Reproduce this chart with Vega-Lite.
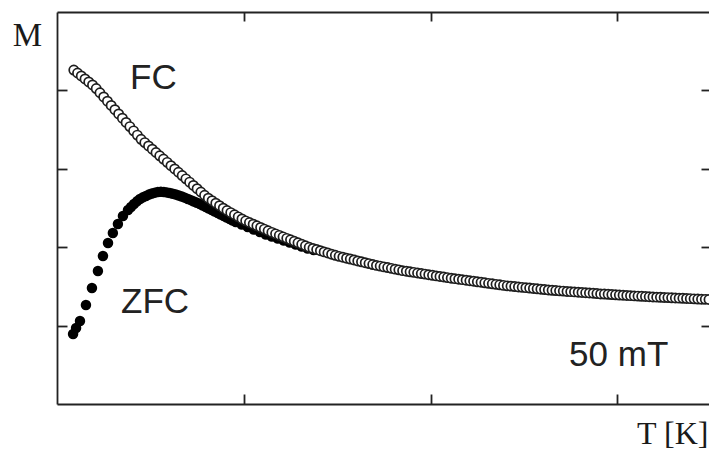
{
  "$schema": "https://vega.github.io/schema/vega-lite/v6.json",
  "width": 652,
  "height": 392,
  "autosize": "none",
  "padding": {"left": 57, "top": 12, "right": 0, "bottom": 47},
  "background": "white",
  "config": {"view": {"stroke": null}},
  "datasets": {
    "zfc": [
      {"T": 8.6, "M": 0.893}, {"T": 10.2, "M": 0.969}, {"T": 12.3, "M": 1.059}, {"T": 15.5, "M": 1.263},
      {"T": 18.7, "M": 1.48}, {"T": 21.9, "M": 1.696}, {"T": 24.6, "M": 1.888}, {"T": 27.3, "M": 2.054},
      {"T": 29.9, "M": 2.181}, {"T": 32.6, "M": 2.296}, {"T": 35.3, "M": 2.398}, {"T": 38.0, "M": 2.474},
      {"T": 39.6, "M": 2.513}, {"T": 41.2, "M": 2.551}, {"T": 42.8, "M": 2.585}, {"T": 44.4, "M": 2.615},
      {"T": 46.0, "M": 2.636}, {"T": 47.6, "M": 2.653}, {"T": 49.2, "M": 2.671}, {"T": 50.8, "M": 2.685},
      {"T": 52.4, "M": 2.696}, {"T": 54.0, "M": 2.704}, {"T": 55.6, "M": 2.707}, {"T": 57.2, "M": 2.704},
      {"T": 58.8, "M": 2.699}, {"T": 60.4, "M": 2.691}, {"T": 62.0, "M": 2.682}, {"T": 63.6, "M": 2.672},
      {"T": 65.2, "M": 2.66}, {"T": 66.8, "M": 2.647}, {"T": 68.4, "M": 2.632}, {"T": 70.1, "M": 2.615},
      {"T": 71.7, "M": 2.6}, {"T": 73.3, "M": 2.583}, {"T": 74.9, "M": 2.567}, {"T": 76.5, "M": 2.551},
      {"T": 78.1, "M": 2.532}, {"T": 79.7, "M": 2.513}, {"T": 81.3, "M": 2.494}, {"T": 82.9, "M": 2.474},
      {"T": 84.5, "M": 2.455}, {"T": 86.1, "M": 2.436}, {"T": 87.7, "M": 2.417}, {"T": 89.3, "M": 2.398},
      {"T": 90.9, "M": 2.379}, {"T": 92.5, "M": 2.36}, {"T": 94.1, "M": 2.341}, {"T": 95.7, "M": 2.321},
      {"T": 98.9, "M": 2.29}, {"T": 102.1, "M": 2.258},
      {"T": 105.3, "M": 2.226}, {"T": 108.6, "M": 2.194}, {"T": 111.8, "M": 2.162}, {"T": 115.0, "M": 2.136},
      {"T": 118.2, "M": 2.111}, {"T": 121.4, "M": 2.085}, {"T": 124.6, "M": 2.06}, {"T": 127.8, "M": 2.034},
      {"T": 131.0, "M": 2.009}, {"T": 134.2, "M": 1.983}, {"T": 137.4, "M": 1.964}
    ],
    "fc": [
      {"T": 9, "M": 4.26}, {"T": 11, "M": 4.222}, {"T": 13, "M": 4.184}, {"T": 15, "M": 4.146},
      {"T": 17, "M": 4.108}, {"T": 19, "M": 4.07}, {"T": 21, "M": 4.024}, {"T": 23, "M": 3.97},
      {"T": 25, "M": 3.916}, {"T": 27, "M": 3.862}, {"T": 29, "M": 3.808}, {"T": 31, "M": 3.754},
      {"T": 33, "M": 3.7}, {"T": 35, "M": 3.646}, {"T": 37, "M": 3.592}, {"T": 39, "M": 3.538},
      {"T": 41, "M": 3.484}, {"T": 43, "M": 3.43}, {"T": 45, "M": 3.376}, {"T": 47, "M": 3.334},
      {"T": 49, "M": 3.292}, {"T": 51, "M": 3.25}, {"T": 53, "M": 3.208}, {"T": 55, "M": 3.166},
      {"T": 57, "M": 3.124}, {"T": 59, "M": 3.082}, {"T": 61, "M": 3.04}, {"T": 63, "M": 2.998},
      {"T": 65, "M": 2.956}, {"T": 67, "M": 2.914}, {"T": 69, "M": 2.872}, {"T": 71, "M": 2.83},
      {"T": 73, "M": 2.788}, {"T": 75, "M": 2.746}, {"T": 77, "M": 2.704}, {"T": 79, "M": 2.662},
      {"T": 81, "M": 2.625}, {"T": 83, "M": 2.593}, {"T": 85, "M": 2.561}, {"T": 87, "M": 2.529},
      {"T": 89, "M": 2.497}, {"T": 91, "M": 2.468}, {"T": 93, "M": 2.441}, {"T": 95, "M": 2.414},
      {"T": 97, "M": 2.387}, {"T": 99, "M": 2.36}, {"T": 101, "M": 2.336}, {"T": 103, "M": 2.315},
      {"T": 105, "M": 2.294}, {"T": 107, "M": 2.273}, {"T": 109, "M": 2.252}, {"T": 111, "M": 2.231},
      {"T": 113, "M": 2.21}, {"T": 115, "M": 2.189}, {"T": 117, "M": 2.17}, {"T": 119, "M": 2.151},
      {"T": 121, "M": 2.132}, {"T": 123, "M": 2.113}, {"T": 125, "M": 2.094}, {"T": 127, "M": 2.075},
      {"T": 129, "M": 2.056}, {"T": 131, "M": 2.037}, {"T": 133, "M": 2.018}, {"T": 135, "M": 1.999},
      {"T": 137, "M": 1.984}, {"T": 139, "M": 1.97}, {"T": 141, "M": 1.955}, {"T": 143, "M": 1.94},
      {"T": 145, "M": 1.926}, {"T": 147, "M": 1.911}, {"T": 149, "M": 1.897}, {"T": 151, "M": 1.883},
      {"T": 153, "M": 1.872}, {"T": 155, "M": 1.86}, {"T": 157, "M": 1.849}, {"T": 159, "M": 1.837},
      {"T": 161, "M": 1.825}, {"T": 163, "M": 1.814}, {"T": 165, "M": 1.802}, {"T": 167, "M": 1.791},
      {"T": 169, "M": 1.779}, {"T": 171, "M": 1.768}, {"T": 173, "M": 1.759}, {"T": 175, "M": 1.749},
      {"T": 177, "M": 1.74}, {"T": 179, "M": 1.73}, {"T": 181, "M": 1.72}, {"T": 183, "M": 1.711},
      {"T": 185, "M": 1.701}, {"T": 187, "M": 1.694}, {"T": 189, "M": 1.686}, {"T": 191, "M": 1.679},
      {"T": 193, "M": 1.671}, {"T": 195, "M": 1.664}, {"T": 197, "M": 1.657}, {"T": 199, "M": 1.649},
      {"T": 201, "M": 1.642}, {"T": 203, "M": 1.634}, {"T": 205, "M": 1.627}, {"T": 207, "M": 1.62},
      {"T": 209, "M": 1.612}, {"T": 211, "M": 1.605}, {"T": 213, "M": 1.599}, {"T": 215, "M": 1.592},
      {"T": 217, "M": 1.586}, {"T": 219, "M": 1.579}, {"T": 221, "M": 1.572}, {"T": 223, "M": 1.566},
      {"T": 225, "M": 1.559}, {"T": 227, "M": 1.553}, {"T": 229, "M": 1.546}, {"T": 231, "M": 1.539},
      {"T": 233, "M": 1.533}, {"T": 235, "M": 1.526}, {"T": 237, "M": 1.52}, {"T": 239, "M": 1.513},
      {"T": 241, "M": 1.507}, {"T": 243, "M": 1.503}, {"T": 245, "M": 1.498}, {"T": 247, "M": 1.493},
      {"T": 249, "M": 1.488}, {"T": 251, "M": 1.484}, {"T": 253, "M": 1.479}, {"T": 255, "M": 1.474},
      {"T": 257, "M": 1.469}, {"T": 259, "M": 1.464}, {"T": 261, "M": 1.46}, {"T": 263, "M": 1.455},
      {"T": 265, "M": 1.45}, {"T": 267, "M": 1.447}, {"T": 269, "M": 1.443}, {"T": 271, "M": 1.44},
      {"T": 273, "M": 1.436}, {"T": 275, "M": 1.433}, {"T": 277, "M": 1.43}, {"T": 279, "M": 1.426},
      {"T": 281, "M": 1.423}, {"T": 283, "M": 1.419}, {"T": 285, "M": 1.416}, {"T": 287, "M": 1.413},
      {"T": 289, "M": 1.409}, {"T": 291, "M": 1.404}, {"T": 293, "M": 1.402}, {"T": 295, "M": 1.399},
      {"T": 297, "M": 1.396}, {"T": 299, "M": 1.393}, {"T": 301, "M": 1.39}, {"T": 303, "M": 1.388},
      {"T": 305, "M": 1.385}, {"T": 307, "M": 1.382}, {"T": 309, "M": 1.379}, {"T": 311, "M": 1.376},
      {"T": 313, "M": 1.374}, {"T": 315, "M": 1.371}, {"T": 317, "M": 1.368}, {"T": 319, "M": 1.365},
      {"T": 321, "M": 1.363}, {"T": 323, "M": 1.361}, {"T": 325, "M": 1.359}, {"T": 327, "M": 1.357},
      {"T": 329, "M": 1.355}, {"T": 331, "M": 1.352}, {"T": 333, "M": 1.35}, {"T": 335, "M": 1.348},
      {"T": 337, "M": 1.346}, {"T": 339, "M": 1.344}, {"T": 341, "M": 1.341}, {"T": 343, "M": 1.339},
      {"T": 345, "M": 1.337}, {"T": 347, "M": 1.335}, {"T": 349, "M": 1.333}
    ],
    "notes": [
      {"T": 39.1, "M": 4.018, "label": "FC"},
      {"T": 34.3, "M": 1.161, "label": "ZFC"},
      {"T": 274.1, "M": 0.485, "label": "50 mT"}
    ]
  },
  "layer": [
    {
      "data": {"name": "zfc"},
      "mark": {"type": "circle", "fill": "#000000", "stroke": null, "size": 110, "opacity": 1},
      "encoding": {
        "x": {"field": "T", "type": "quantitative", "scale": {"domain": [0, 349], "nice": false, "zero": false},
          "axis": {"orient": "bottom", "values": [100, 200, 300], "labels": false, "grid": false,
            "tickSize": -10, "tickWidth": 1.8, "tickColor": "#222222", "domainColor": "#222222", "domainWidth": 1.8,
            "title": "T [K]", "titleFont": "Liberation Serif", "titleFontSize": 32, "titleFontWeight": "normal",
            "titleColor": "#1a1a1a", "titleAngle": 0, "titleAlign": "right", "titleBaseline": "alphabetic",
            "titleX": 651, "titleY": 39}},
        "y": {"field": "M", "type": "quantitative", "scale": {"domain": [0, 5], "nice": false, "zero": false},
          "axis": {"orient": "left", "values": [1, 2, 3, 4], "labels": false, "grid": false,
            "tickSize": -10, "tickWidth": 1.8, "tickColor": "#222222", "domainColor": "#222222", "domainWidth": 1.8,
            "title": "M", "titleFont": "Liberation Serif", "titleFontSize": 33, "titleFontWeight": "normal",
            "titleColor": "#1a1a1a", "titleAngle": 0, "titleAlign": "center", "titleBaseline": "alphabetic",
            "titleX": -30, "titleY": 33}}
      }
    },
    {
      "data": {"name": "fc"},
      "mark": {"type": "circle", "fill": "#ffffff", "stroke": "#1e1e1e", "strokeWidth": 1.7, "size": 85, "opacity": 1, "fillOpacity": 1},
      "encoding": {
        "x": {"field": "T", "type": "quantitative", "axis": null},
        "y": {"field": "M", "type": "quantitative", "axis": null}
      }
    },
    {
      "data": {"name": "notes"},
      "mark": {"type": "text", "font": "Liberation Sans", "fontSize": 35, "align": "left", "baseline": "alphabetic", "color": "#222222"},
      "encoding": {
        "x": {"field": "T", "type": "quantitative", "axis": null},
        "y": {"field": "M", "type": "quantitative", "axis": null},
        "text": {"field": "label", "type": "nominal"}
      }
    },
    {
      "data": {"name": "fc"},
      "mark": {"type": "circle", "opacity": 0},
      "encoding": {
        "x": {"field": "T", "type": "quantitative",
          "axis": {"orient": "top", "values": [100, 200, 300], "labels": false, "grid": false, "title": null,
            "tickSize": -9, "tickWidth": 1.8, "tickColor": "#222222", "domainColor": "#222222", "domainWidth": 1.8}},
        "y": {"field": "M", "type": "quantitative",
          "axis": {"orient": "right", "values": [1, 2, 3, 4], "labels": false, "grid": false, "title": null,
            "tickSize": -8, "tickWidth": 1.8, "tickColor": "#222222", "domain": false}}
      }
    }
  ],
  "resolve": {"axis": {"x": "independent", "y": "independent"}}
}
